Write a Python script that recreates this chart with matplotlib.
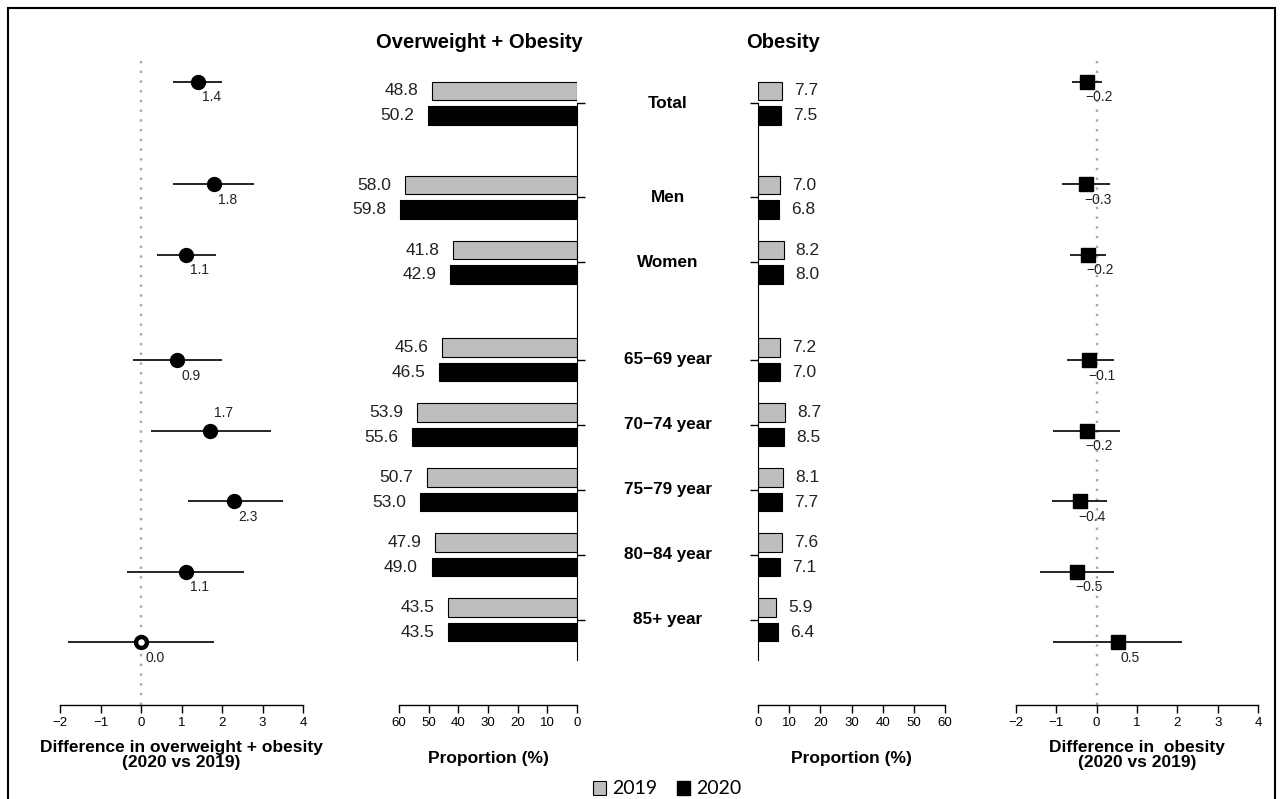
import matplotlib
matplotlib.use("Agg")
import matplotlib.pyplot as plt
from matplotlib.patches import Patch, Rectangle

plt.rcParams["font.family"] = ["Liberation Sans", "DejaVu Sans"]

# Data
row_labels = ["Total", "Men", "Women", "65\u221269 year", "70\u221274 year",
              "75\u221279 year", "80\u221284 year", "85+ year"]
row_pos = [0, 1.45, 2.45, 3.95, 4.95, 5.95, 6.95, 7.95]

ow_2019 = [48.8, 58.0, 41.8, 45.6, 53.9, 50.7, 47.9, 43.5]
ow_2020 = [50.2, 59.8, 42.9, 46.5, 55.6, 53.0, 49.0, 43.5]
ob_2019 = [7.7, 7.0, 8.2, 7.2, 8.7, 8.1, 7.6, 5.9]
ob_2020 = [7.5, 6.8, 8.0, 7.0, 8.5, 7.7, 7.1, 6.4]

ow_diff = [1.4, 1.8, 1.1, 0.9, 1.7, 2.3, 1.1, 0.0]
ow_lo = [0.8, 0.8, 0.4, -0.2, 0.25, 1.15, -0.35, -1.8]
ow_hi = [2.0, 2.8, 1.85, 2.0, 3.2, 3.5, 2.55, 1.8]
ow_labels = ["1.4", "1.8", "1.1", "0.9", "1.7", "2.3", "1.1", "0.0"]

ob_diff = [-0.25, -0.27, -0.22, -0.18, -0.25, -0.42, -0.49, 0.52]
ob_lo = [-0.62, -0.86, -0.67, -0.74, -1.09, -1.11, -1.41, -1.09]
ob_hi = [0.12, 0.32, 0.22, 0.44, 0.57, 0.25, 0.42, 2.12]
ob_labels = ["\u22120.2", "\u22120.3", "\u22120.2", "\u22120.1", "\u22120.2",
             "\u22120.4", "\u22120.5", "0.5"]

W, H = 1282, 799
AX_TOP, AX_BOT = 60, 705
GRAY = "#bebebe"


def px_rect(left, right):
    return [left / W, 1 - AX_BOT / H, (right - left) / W, (AX_BOT - AX_TOP) / H]


def fig_xy(x, y):
    return x / W, 1 - y / H


def ylim_for(first_px, step_px):
    return ((AX_BOT - first_px) / step_px, (AX_TOP - first_px) / step_px)


def style_bottom_axis(ax):
    for side in ["top", "left", "right"]:
        ax.spines[side].set_visible(False)
    ax.spines["bottom"].set_linewidth(1.0)
    ax.set_yticks([])
    ax.tick_params(axis="x", direction="out", length=5.5, width=1.0,
                   labelsize=9.5, pad=3)
    ax.patch.set_alpha(0)


def forest(ax, vals, lo, hi, labels, marker, ms, xlabel):
    ax.set_xlim(-2, 4)
    ax.set_ylim(*ylim_for(82, 70.5))
    ax.axvline(0, color="#aaaaaa", lw=1.75, ls=(0, (1, 3)), zorder=1)
    ax.hlines(row_pos, lo, hi, color="black", lw=1.2, zorder=2)
    ax.plot(vals, row_pos, ls="none", marker=marker, ms=ms, color="black",
            zorder=3)
    style_bottom_axis(ax)
    ax.set_xticks(range(-2, 5))
    ax.set_xlabel(xlabel, fontsize=12.5, fontweight="bold", labelpad=8,
                  linespacing=1.0)


def bars(ax, v19, v20, xlim, ha, lab_off):
    h = 0.285
    ys19 = [p - 0.185 for p in row_pos]
    ys20 = [p + 0.19 for p in row_pos]
    ax.barh(ys19, v19, height=h, color=GRAY, edgecolor="black", lw=0.8,
            zorder=2)
    ax.barh(ys20, v20, height=h, color="black", edgecolor="black", lw=0.8,
            zorder=2)
    for y, v in zip(ys19, v19):
        ax.text(v + lab_off, y, f"{v:.1f}", ha=ha, va="center", fontsize=12.5,
                color="#222222")
    for y, v in zip(ys20, v20):
        ax.text(v + lab_off, y, f"{v:.1f}", ha=ha, va="center", fontsize=12.5,
                color="#222222")
    ax.set_xlim(*xlim)
    ax.set_ylim(*ylim_for(103, 65))
    style_bottom_axis(ax)
    ax.set_xticks(range(0, 61, 10))
    ax.set_xlabel("Proportion (%)", fontsize=12.5, fontweight="bold",
                  labelpad=16)


fig = plt.figure(figsize=(W / 100, H / 100), dpi=100)

# Left forest plot: overweight + obesity difference
ax1 = fig.add_axes(px_rect(60, 303))
forest(ax1, ow_diff, ow_lo, ow_hi, ow_labels, "o", 10,
       "Difference in overweight + obesity\n(2020 vs 2019)")
ax1.plot(ow_diff[-1], row_pos[-1], "o", ms=7.5, mfc="white", mec="black",
         mew=2.8, zorder=4)
for x, y, t, i in zip(ow_diff, row_pos, ow_labels, range(len(ow_labels))):
    dy = 13 if row_labels[i].startswith("70") else -11
    ax1.annotate(t, (x, y), xytext=(10, dy), textcoords="offset points",
                 ha="center", va="center", fontsize=10, color="#222222")

# Overweight + obesity bars (mirrored)
ax2 = fig.add_axes(px_rect(399, 577))
bars(ax2, ow_2019, ow_2020, (60, 0), "right", 4.6)
ax2.spines["right"].set_visible(True)
ax2.spines["right"].set_bounds(0, 8.57)
ax2.yaxis.tick_right()
ax2.set_yticks(row_pos)
ax2.tick_params(axis="y", direction="out", length=5.5, width=1.0,
                labelright=False)

# Obesity bars
ax3 = fig.add_axes(px_rect(758, 945))
bars(ax3, ob_2019, ob_2020, (0, 60), "left", 3.9)
ax3.spines["left"].set_visible(True)
ax3.spines["left"].set_bounds(0, 8.57)
ax3.set_yticks(row_pos)
ax3.tick_params(axis="y", direction="out", length=5.5, width=1.0,
                labelleft=False)

# Right forest plot: obesity difference
ax4 = fig.add_axes(px_rect(1016, 1258))
forest(ax4, ob_diff, ob_lo, ob_hi, ob_labels, "s", 9.5,
       "Difference in  obesity\n(2020 vs 2019)")
for x, y, t in zip(ob_diff, row_pos, ob_labels):
    ax4.annotate(t, (x, y), xytext=(9, -11), textcoords="offset points",
                 ha="center", va="center", fontsize=10, color="#222222")

# Category labels in the middle
for lab, p in zip(row_labels, row_pos):
    y = 103 + p * 65
    fig.text(*fig_xy(668, y), lab, ha="center", va="center", fontsize=12.3,
             fontweight="bold")

fig.text(*fig_xy(479, 43), "Overweight + Obesity", ha="center", va="center",
         fontsize=14.5, fontweight="bold")
fig.text(*fig_xy(783, 43), "Obesity", ha="center", va="center",
         fontsize=14.5, fontweight="bold")

handles = [Patch(facecolor=GRAY, edgecolor="black", lw=0.8),
           Patch(facecolor="black", edgecolor="black")]
fig.legend(handles, ["2019", "2020"], loc="center",
           bbox_to_anchor=fig_xy(667, 789), ncol=2, frameon=False,
           handlelength=0.7, handleheight=0.7, handletextpad=0.3,
           columnspacing=1.0, prop={"family": "Lato", "size": 14})

# Outer frame
fig.patches.append(Rectangle(fig_xy(8, 805), (1275 - 8) / W, (805 - 8) / H,
                             transform=fig.transFigure, fill=False,
                             edgecolor="black", lw=1.5))

fig.savefig("out.png", dpi=100)
